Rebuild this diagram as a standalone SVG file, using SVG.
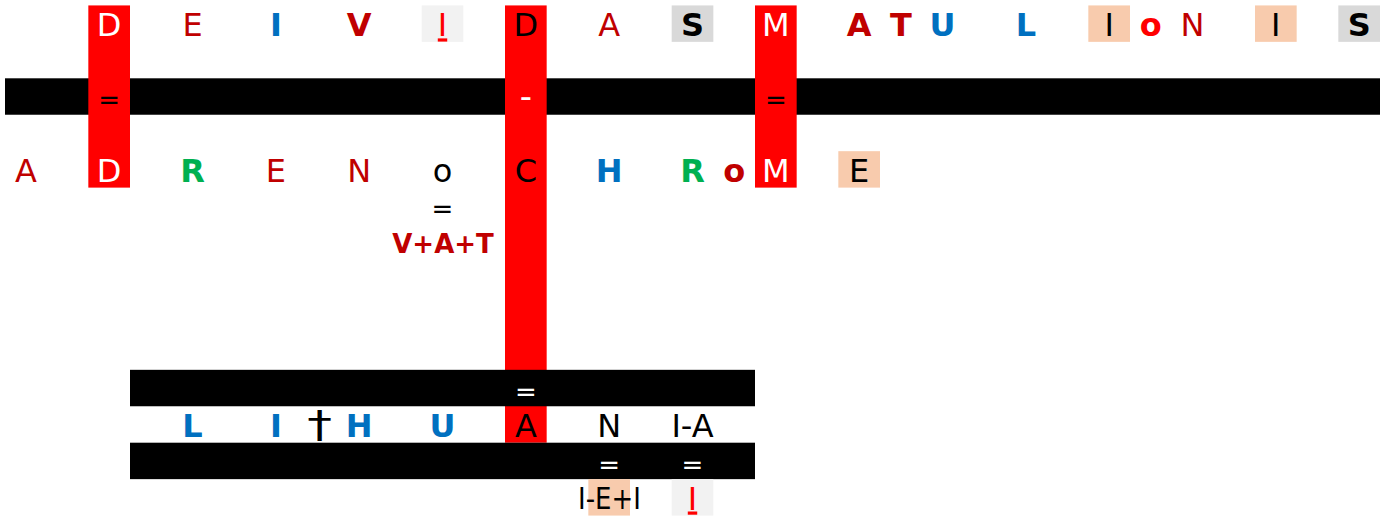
<svg xmlns="http://www.w3.org/2000/svg" width="1391" height="517" viewBox="0 0 1391 517">
<style>
text{font-family:"DejaVu Sans","Noto Sans",sans-serif;font-size:32px;text-anchor:middle}
.b{font-weight:bold}
.dr{fill:#c00000}
.bl{fill:#0070c0}
.gr{fill:#00b050}
.rd{fill:#ff0000}
.k{fill:#000}
.w{fill:#fff}
.eq{font-size:26px}
.bar{fill:#000}
.red{fill:#ff0000}
.pe{fill:#f8cbad}
.gy{fill:#d9d9d9}
.lg{fill:#f2f2f2}
.ul{text-decoration:underline}
</style>
<rect width="1391" height="517" fill="#fff"/>
<g id="bars">
<rect class="bar" x="5" y="78.3" width="1375" height="36.44"/>
</g>
<g id="columns">
<rect class="red" x="88.33" y="5.42" width="41.67" height="182.2"/>
<rect class="red" x="505" y="5.42" width="41.67" height="437.28"/>
<rect class="red" x="755" y="5.42" width="41.67" height="182.2"/>
</g>
<g id="bottom-bars">
<rect class="bar" x="130" y="369.82" width="625" height="36.44"/>
<rect class="bar" x="130" y="442.7" width="625" height="36.44"/>
</g>
<g id="cell-backgrounds">
<rect class="lg" x="421.67" y="5.42" width="41.67" height="36.44"/>
<rect class="gy" x="671.67" y="5.42" width="41.67" height="36.44"/>
<rect class="pe" x="1088.33" y="5.42" width="41.67" height="36.44"/>
<rect class="pe" x="1255" y="5.42" width="41.67" height="36.44"/>
<rect class="gy" x="1338.33" y="5.42" width="41.67" height="36.44"/>
<rect class="pe" x="838.33" y="151.18" width="41.67" height="36.44"/>
<rect class="pe" x="588.33" y="479.14" width="41.67" height="36.44"/>
<rect class="lg" x="671.67" y="479.14" width="41.67" height="36.44"/>
</g>
<g id="row-top">
<text class="w" x="109.17" y="36.4">D</text>
<text class="dr" x="192.5" y="36.4">E</text>
<text class="bl b" x="275.83" y="36.4">I</text>
<text class="dr b" x="359.17" y="36.4">V</text>
<text class="rd ul" x="442.5" y="36.4">I</text>
<text class="k" x="525.83" y="36.4">D</text>
<text class="dr" x="609.17" y="36.4">A</text>
<text class="k b" x="692.5" y="36.4">S</text>
<text class="w" x="775.83" y="36.4">M</text>
<text class="dr b" x="859.17" y="36.4">A</text>
<text class="dr b" x="900.83" y="36.4">T</text>
<text class="bl b" x="942.5" y="36.4">U</text>
<text class="bl b" x="1025.83" y="36.4">L</text>
<text class="k" x="1109.17" y="36.4">I</text>
<text class="rd b" x="1150.83" y="36.4">o</text>
<text class="dr" x="1192.5" y="36.4">N</text>
<text class="k" x="1275.83" y="36.4">I</text>
<text class="k b" x="1359.17" y="36.4">S</text>
</g>
<g id="row-bar">
<text class="k eq" x="109.17" y="109.1">=</text>
<text class="w" style="font-size:34px" x="525.83" y="107.5">-</text>
<text class="k eq" x="775.83" y="109.1">=</text>
</g>
<g id="row-middle">
<text class="dr" x="25.83" y="182.2">A</text>
<text class="w" x="109.17" y="182.2">D</text>
<text class="gr b" x="192.5" y="182.2">R</text>
<text class="dr" x="275.83" y="182.2">E</text>
<text class="dr" x="359.17" y="182.2">N</text>
<text class="k" x="442.5" y="182.2">o</text>
<text class="k" x="525.83" y="182.2">C</text>
<text class="bl b" x="609.17" y="182.2">H</text>
<text class="gr b" x="692.5" y="182.2">R</text>
<text class="dr b" x="734.17" y="182.2">o</text>
<text class="w" x="775.83" y="182.2">M</text>
<text class="k" x="859.17" y="182.2">E</text>
<text class="k eq" x="442.5" y="218.4">=</text>
<text class="dr b" style="font-size:26px" x="443" y="252.5">V+A+T</text>
</g>
<g id="row-bottom">
<text class="w eq" x="525.83" y="400.8">=</text>
<text class="bl b" x="192.5" y="437.3">L</text>
<text class="bl b" x="275.83" y="437.3">I</text>
<text class="k" style="font-size:38px" transform="translate(319.5,0) scale(1.3,1)" x="0" y="437.5">†</text>
<text class="bl b" x="359.17" y="437.3">H</text>
<text class="bl b" x="442.5" y="437.3">U</text>
<text class="k" x="525.83" y="437.3">A</text>
<text class="k" x="609.17" y="437.3">N</text>
<text class="k" x="692.5" y="437.3">I-A</text>
<text class="w eq" x="609.17" y="473.7">=</text>
<text class="w eq" x="692.5" y="473.7">=</text>
<text class="k" style="font-size:30px" x="609.5" y="508.5" textLength="63" lengthAdjust="spacingAndGlyphs">I-E+I</text>
<text class="rd ul" x="692.5" y="509.5">I</text>
</g>
</svg>
